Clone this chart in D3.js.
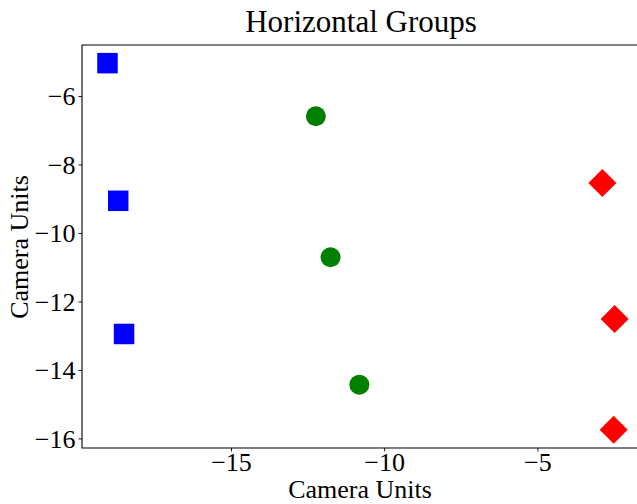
<!DOCTYPE html>
<html>
<head>
<meta charset="utf-8">
<script src="https://cdn.jsdelivr.net/npm/d3@7"></script>
<style>
  html, body { margin: 0; padding: 0; background: #fff; }
  svg { display: block; }
  text { font-family: "Liberation Serif", "Times New Roman", serif; fill: #000; }
</style>
</head>
<body>
<svg id="chart" width="637" height="504"></svg>
<script>
// Three groups of camera positions
const blueX  = [-19.03, -18.68, -18.49];
const blueY  = [-5.04, -9.06, -12.95];
const greenX = [-12.23, -11.75, -10.81];
const greenY = [-6.59, -10.71, -14.43];
const redX   = [-2.88, -2.48, -2.51];
const redY   = [-8.54, -12.51, -15.75];

const xTicks = [-15, -10, -5];
const yTicks = [-16, -14, -12, -10, -8, -6];

const titleText = "Horizontal Groups";
const xLabel = "Camera Units";
const yLabel = "Camera Units";

const W = 637, H = 504;
const plot = { left: 82, right: 638, top: 45, bottom: 448 };

const svg = d3.select("#chart");

const x = d3.scaleLinear().domain([-19.862, -1.717]).range([plot.left, plot.right]);
const y = d3.scaleLinear().domain([-16.28, -4.51]).range([plot.bottom, plot.top]);

const fmt = d => (d < 0 ? "\u2212" + Math.abs(d) : String(d));

// Axes
const xAxis = d3.axisBottom(x).tickValues(xTicks).tickFormat(fmt).tickSize(3.5).tickPadding(2);
const yAxis = d3.axisLeft(y).tickValues(yTicks).tickFormat(fmt).tickSize(3.5).tickPadding(3);

const gx = svg.append("g").attr("transform", `translate(0,${plot.bottom})`).call(xAxis);
const gy = svg.append("g").attr("transform", `translate(${plot.left},0)`).call(yAxis);

[gx, gy].forEach(g => {
  g.select(".domain").remove();
  g.selectAll(".tick line").attr("stroke", "#000").attr("stroke-width", 0.9);
  g.selectAll(".tick text")
    .style("font-family", '"Liberation Serif", serif')
    .style("font-size", "26px")
    .attr("fill", "#000");
});
gx.selectAll(".tick text").attr("dy", "0.68em");
gy.selectAll(".tick text").attr("dy", "0.34em");

// Spines (left, bottom, top)
svg.append("path")
  .attr("d", `M${plot.right},${plot.top}H${plot.left}V${plot.bottom}H${plot.right}`)
  .attr("fill", "none")
  .attr("stroke", "#000")
  .attr("stroke-width", 1.1);

// Markers
const sq = d3.symbol().type(d3.symbolSquare).size(20.5 * 20.5);
const ci = d3.symbol().type(d3.symbolCircle).size(Math.PI * 10 * 10);
const dm = d3.symbol().type(d3.symbolSquare).size(19.8 * 19.8);

svg.append("g").selectAll("path")
  .data(d3.zip(blueX, blueY))
  .join("path")
  .attr("d", sq())
  .attr("transform", d => `translate(${x(d[0])},${y(d[1])})`)
  .attr("fill", "#0000ff");

svg.append("g").selectAll("path")
  .data(d3.zip(greenX, greenY))
  .join("path")
  .attr("d", ci())
  .attr("transform", d => `translate(${x(d[0])},${y(d[1])})`)
  .attr("fill", "#008000");

svg.append("g").selectAll("path")
  .data(d3.zip(redX, redY))
  .join("path")
  .attr("d", dm())
  .attr("transform", d => `translate(${x(d[0])},${y(d[1])}) rotate(45)`)
  .attr("fill", "#ff0000");

// Title and axis labels
svg.append("text")
  .attr("x", 361)
  .attr("y", 32)
  .attr("text-anchor", "middle")
  .style("font-size", "31px")
  .text(titleText);

svg.append("text")
  .attr("x", 360)
  .attr("y", 498)
  .attr("text-anchor", "middle")
  .style("font-size", "26px")
  .text(xLabel);

svg.append("text")
  .attr("transform", `translate(28,247) rotate(-90)`)
  .attr("text-anchor", "middle")
  .style("font-size", "26px")
  .text(yLabel);
</script>
</body>
</html>
